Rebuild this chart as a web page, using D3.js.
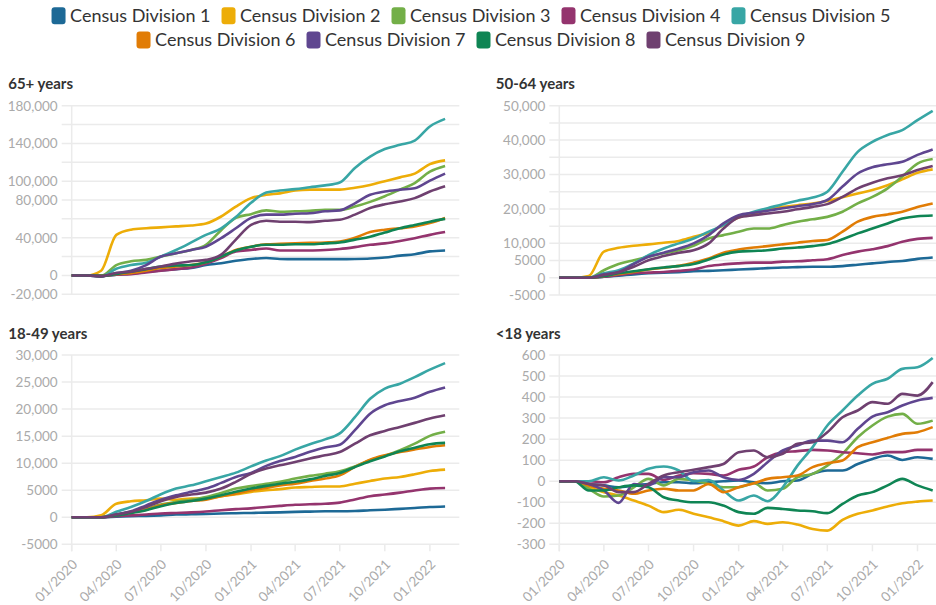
<!DOCTYPE html>
<html>
<head>
<meta charset="utf-8">
<script src="https://cdn.jsdelivr.net/npm/d3@7"></script>
<style>
  body { margin: 0; background: #fff; }
  svg { font-family: Lato, "Source Sans Pro", sans-serif; }
</style>
</head>
<body>
<script>

var months = ["2020-01","2020-02","2020-03","2020-04","2020-05","2020-06","2020-07","2020-08","2020-09",
  "2020-10","2020-11","2020-12","2021-01","2021-02","2021-03","2021-04","2021-05","2021-06","2021-07",
  "2021-08","2021-09","2021-10","2021-11","2021-12","2022-01","2022-02"];

var divisions = ["Census Division 1","Census Division 2","Census Division 3","Census Division 4",
  "Census Division 5","Census Division 6","Census Division 7","Census Division 8","Census Division 9"];

var colors = ["#1D6996","#EDAD08","#73AF48","#94346E","#38A6A5","#E17C05","#5F4690","#0F8554","#6F4070"];

// 65+ years
var age65 = [
  [0,0,-500,700,2000,4000,5300,6700,7800,11000,13000,15500,17500,18500,17500,17300,17300,17300,17300,17500,18000,19000,21000,22500,25500,26500],
  [0,0,5000,43000,48500,50000,51000,52000,53000,55000,62500,73000,82000,85500,87000,90000,91000,91000,91000,93000,96000,100000,104000,108000,118000,122000],
  [0,0,-500,11000,15000,16500,20000,23500,27000,32500,48000,61000,65000,69000,67500,68000,68500,69500,69500,73000,78000,84000,91000,98000,110000,116000],
  [0,0,-500,700,1400,3200,5000,6700,8500,12500,18500,25500,27000,28500,26500,26500,26500,27000,28000,30000,32500,34000,36500,39500,43000,46000],
  [0,0,-1000,7000,11000,13500,20000,27000,35000,43000,50000,62000,77000,88000,90000,91500,93500,95500,98500,114000,126000,134000,138500,143000,158000,166000],
  [0,0,-500,1500,2500,5000,7800,9500,11000,14000,20000,27000,30500,33000,33500,34000,34500,35000,36000,40000,46000,48500,50000,52000,55500,61000],
  [0,0,-1000,2500,5000,11000,20000,23500,27000,30500,39500,50000,61000,64500,64500,65500,66000,68000,69000,76500,85500,89000,91000,92500,100500,108000],
  [0,0,-500,1500,4000,6700,9500,10500,11000,14000,20000,26500,30500,32500,32500,33000,33000,34000,35000,38000,41000,45500,50000,53500,57000,60000],
  [0,0,-1000,2500,4000,7000,9500,12500,15000,16500,22000,38000,53500,58000,57000,57000,56500,58000,59000,64500,71500,75500,78500,82000,89000,94500]
];

// 50-64 years
var age50 = [
  [0,0,0,300,600,1000,1300,1500,1600,1900,2000,2200,2400,2600,2800,3000,3100,3200,3200,3400,3800,4200,4600,4900,5500,5900],
  [0,0,500,7600,8700,9300,9700,10200,10700,11900,13100,15300,17500,18700,19700,20600,21100,21600,22300,23400,24500,25500,26900,28600,30500,31500],
  [0,0,0,2200,4000,5100,6100,7100,8000,9300,11400,12400,13400,14300,14300,15300,16300,17000,17700,19200,21600,23500,26000,29400,33200,34500],
  [0,0,0,300,800,1300,1500,1700,2000,2400,3400,3900,4200,4400,4400,4700,4800,5100,5400,6600,7600,8300,9200,10500,11300,11600],
  [0,0,0,1300,2200,4200,6600,8500,10000,11400,13400,15300,17700,19200,20200,21400,22400,23300,25000,30800,36600,39500,41500,42900,45800,48500],
  [0,0,0,500,1100,1700,2400,2900,3500,4400,5600,7300,8200,8800,9200,9700,10200,10700,11000,13400,16300,17700,18400,19200,20600,21600],
  [0,0,0,1000,1700,4000,6100,7300,8500,10000,12400,15800,18200,18900,19500,20200,20800,21400,22600,26500,30300,32100,33000,33700,35700,37300],
  [0,0,0,500,1300,1900,2500,3000,3400,4000,5300,6800,7600,7800,8000,8500,8800,9200,9800,11200,12900,14300,15800,17200,17900,18100],
  [0,0,0,800,1600,3200,5100,6300,7300,8000,10000,14300,17500,18200,18700,19200,19900,20600,21400,23500,26000,27600,28900,29800,31300,32500]
];

// 18-49 years
var age18 = [
  [0,0,0,100,200,250,350,500,550,600,700,750,800,850,900,1000,1050,1100,1100,1150,1300,1400,1550,1700,1900,2000],
  [0,0,350,2500,2950,3150,3450,3250,3450,3450,3900,4250,4700,5000,5200,5500,5600,5700,5700,6200,6700,7150,7450,7950,8550,8800],
  [0,0,0,550,1000,1600,2350,2850,3250,3750,4500,5300,5750,6200,6550,7150,7650,8050,8500,9400,10550,11350,12400,13600,15050,15800],
  [0,0,0,200,350,500,700,800,900,1050,1300,1500,1650,1900,2100,2300,2400,2500,2700,3300,3900,4200,4550,4950,5300,5400],
  [0,0,0,1000,1900,3000,4250,5300,5900,6650,7450,8250,9400,10500,11300,12500,13500,14400,15500,18500,21900,23800,24700,25900,27300,28500],
  [0,0,0,450,900,1400,2200,2650,3000,3250,3900,4350,5000,5400,5900,6200,6700,7150,7750,9300,10650,11450,12050,12550,13000,13300],
  [0,0,0,550,1100,2200,3250,4050,4700,5300,6350,7450,8200,9500,10400,11150,12100,12900,13400,16100,19150,20700,21500,22100,23200,24000],
  [0,0,0,350,800,1300,2050,2650,3000,3450,4050,4700,5300,5800,6200,6550,7000,7650,8200,9300,10350,11250,12200,12850,13500,13750],
  [0,0,0,500,1000,1900,2950,3750,4200,4550,5300,6550,8050,9000,9600,10200,10850,11450,12050,13600,15150,15950,16700,17450,18250,18850]
];

// <18 years
var age0 = [
  [0,0,-13,-20,-29,-20,-13,-5,-5,-10,-5,0,3,-5,-10,0,3,35,51,51,82,106,122,101,114,106],
  [0,0,-29,-52,-68,-92,-116,-147,-136,-155,-171,-190,-211,-190,-203,-195,-206,-227,-235,-184,-155,-139,-120,-105,-97,-92],
  [0,0,-36,-73,-68,-29,11,-20,11,3,-13,-29,-29,-10,-44,-36,19,35,74,130,209,265,307,320,273,288],
  [0,0,0,-5,19,35,35,6,27,38,35,27,54,70,114,138,143,149,146,138,133,127,138,138,149,149],
  [0,0,0,19,3,27,59,70,51,0,6,-44,-92,-68,-95,-29,74,162,265,336,407,463,487,534,542,586],
  [0,0,-20,-36,-44,-60,-44,-36,-44,-44,-13,-52,-29,-10,11,19,27,67,86,98,162,185,206,225,233,257],
  [0,0,-13,-44,-103,-13,-20,19,19,43,51,19,6,35,90,146,170,193,193,185,249,307,328,360,384,396],
  [0,0,-44,-44,-29,-20,-29,-76,-92,-100,-100,-116,-147,-155,-127,-132,-139,-143,-152,-108,-68,-52,-20,11,-20,-44],
  [0,0,-13,-20,-52,-52,-13,27,43,54,67,82,138,146,114,130,178,185,233,304,336,376,368,415,407,471]
];

var labels65 = [180000,140000,100000,80000,40000,0,-20000];
var labels50 = [50000,40000,30000,20000,10000,5000,0,-5000];
var labels18 = [30000,25000,20000,15000,10000,5000,0,-5000];
var labels0 = [600,500,400,300,200,100,0,-100,-200,-300];

var svgWidth = 936;
var svgHeight = 605;
var plotWidth = 387.6;

var parseMonth = d3.timeParse("%Y-%m");
var dates = months.map(parseMonth);

var svg = d3.select("body")
  .append("svg")
  .attr("width", svgWidth)
  .attr("height", svgHeight);

var xScale = d3.scaleTime()
  .domain([new Date(2020, 0, 1), new Date(2022, 2, 2)])
  .range([0, plotWidth]);

function fmt(v) {
  var s = Math.abs(v) >= 10000 ? d3.format(",")(v) : String(v);
  return s.replace("\u2212", "-");
}

var panels = [
  {title: "65+ years", data: age65, min: -20000, max: 180000, step: 20000, labels: labels65, left: 71.7, top: 105.7, bottom: 294.3, xAxis: false},
  {title: "50-64 years", data: age50, min: -5000, max: 50000, step: 5000, labels: labels50, left: 559.3, top: 105.7, bottom: 295, xAxis: false},
  {title: "18-49 years", data: age18, min: -5000, max: 30000, step: 5000, labels: labels18, left: 71.7, top: 355, bottom: 544.3, xAxis: true},
  {title: "<18 years", data: age0, min: -300, max: 600, step: 100, labels: labels0, left: 559.3, top: 355, bottom: 544.3, xAxis: true}
];

panels.forEach(function(p) {
  var g = svg.append("g")
    .attr("transform", `translate(${p.left}, 0)`);

  var yScale = d3.scaleLinear()
    .domain([p.min, p.max])
    .range([p.bottom, p.top]);

  g.append("text")
    .attr("x", -63.5)
    .attr("y", p.top - 16.5)
    .attr("fill", "#333")
    .style("font-size", "15px")
    .style("font-weight", "bold")
    .text(p.title);

  var grid = d3.range(p.min, p.max + 1, p.step);
  g.selectAll(".grid")
    .data(grid)
    .enter()
    .append("line")
    .attr("x1", -10)
    .attr("x2", plotWidth)
    .attr("y1", d => yScale(d))
    .attr("y2", d => yScale(d))
    .attr("stroke", "#ebebeb")
    .attr("stroke-width", 1.5);

  g.selectAll(".ylab")
    .data(p.labels)
    .enter()
    .append("text")
    .attr("x", -14)
    .attr("y", d => yScale(d))
    .attr("dy", "0.36em")
    .attr("text-anchor", "end")
    .attr("fill", "#aaa")
    .style("font-size", "13.5px")
    .text(fmt);

  g.append("line")
    .attr("x1", 0).attr("x2", 0)
    .attr("y1", p.top)
    .attr("y2", p.xAxis ? p.bottom + 7 : p.bottom)
    .attr("stroke", "#ebebeb")
    .attr("stroke-width", 1.5);

  if (p.xAxis) {
    var ticks = xScale.ticks(d3.timeMonth.every(3));
    g.selectAll(".xtick")
      .data(ticks)
      .enter()
      .append("line")
      .attr("x1", d => xScale(d))
      .attr("x2", d => xScale(d))
      .attr("y1", p.bottom)
      .attr("y2", p.bottom + 7)
      .attr("stroke", "#ebebeb")
      .attr("stroke-width", 1.5);

    g.selectAll(".xlab")
      .data(ticks)
      .enter()
      .append("text")
      .attr("transform", d => `translate(${xScale(d) + 6.5}, ${p.bottom + 21}) rotate(-45)`)
      .attr("text-anchor", "end")
      .attr("fill", "#aaa")
      .style("font-size", "13.5px")
      .text(d3.timeFormat("%m/%Y"));
  }

  var line = d3.line()
    .x((d, i) => xScale(dates[i]))
    .y(d => yScale(d))
    .curve(d3.curveMonotoneX);

  g.selectAll(".series")
    .data(p.data)
    .enter()
    .append("path")
    .attr("d", line)
    .attr("fill", "none")
    .attr("stroke", (d, i) => colors[i])
    .attr("stroke-width", 2.6)
    .attr("stroke-linejoin", "round");
});

// legend, two centred rows
var rows = [[0,1,2,3,4],[5,6,7,8]];
rows.forEach(function(row, r) {
  var lg = svg.append("g");
  var x = 0;
  row.forEach(function(k) {
    var item = lg.append("g").attr("transform", `translate(${x}, 0)`);
    item.append("rect")
      .attr("x", 0)
      .attr("y", -8.5)
      .attr("width", 14)
      .attr("height", 17)
      .attr("rx", 3)
      .attr("fill", colors[k]);
    var t = item.append("text")
      .attr("x", 18.5)
      .attr("dy", "0.36em")
      .attr("fill", "#333")
      .style("font-size", "18px")
      .text(divisions[k]);
    x += 18.5 + t.node().getComputedTextLength() + 11;
  });
  var w = x - 11;
  lg.attr("transform", `translate(${471 - w / 2}, ${r === 0 ? 15.8 : 40})`);
});

</script>
</body>
</html>
